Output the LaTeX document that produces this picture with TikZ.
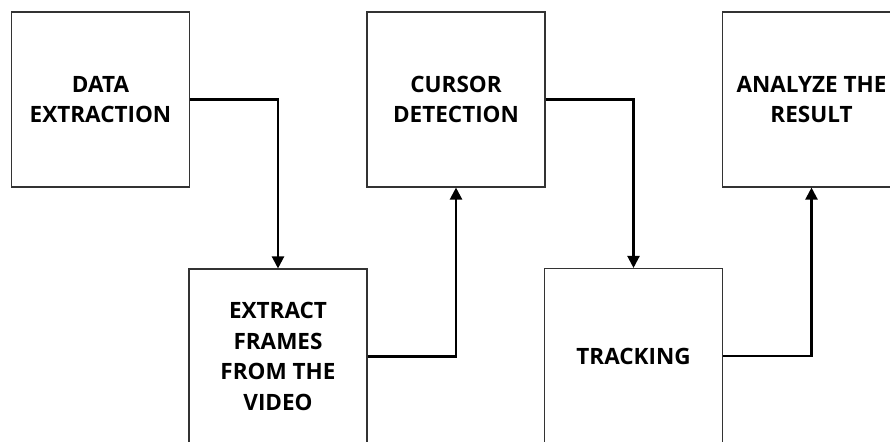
\documentclass[tikz,border=0pt]{standalone}
\usepackage{fontspec}
\setmainfont{Open Sans}
\usetikzlibrary{arrows.meta}
\tikzset{
  stage/.style={draw=black!80, line width=1.1pt, minimum width=178pt, minimum height=175pt,
    inner sep=0pt, align=center, font=\bfseries\fontsize{22.5}{30.7}\selectfont},
  flow/.style={line width=2.2pt, -{Triangle[width=12pt,length=12pt]}}
}
\begin{document}
\begin{tikzpicture}[x=1pt,y=-1pt]
  \useasboundingbox (0,0) rectangle (890,441);
  \clip (0,0) rectangle (890,441);
  \fill[white] (0,0) rectangle (890,441);
  \node[stage] (extract) at (100.5,99.5) {DATA\\EXTRACTION};
  \node[stage] (frames)  at (278,356.5) {EXTRACT\\FRAMES\\FROM THE\\VIDEO};
  \node[stage] (cursor)  at (456,99.5) {CURSOR\\DETECTION};
  \node[stage] (track)   at (633.5,356) {TRACKING};
  \node[stage] (analyze) at (811.5,99.5) {ANALYZE THE\\RESULT};
  \draw[flow] (extract.east) -| (frames.north);
  \draw[flow] (frames.east) -| (cursor.south);
  \draw[flow] (cursor.east) -| (track.north);
  \draw[flow] (track.east) -| (analyze.south);
\end{tikzpicture}
\end{document}
